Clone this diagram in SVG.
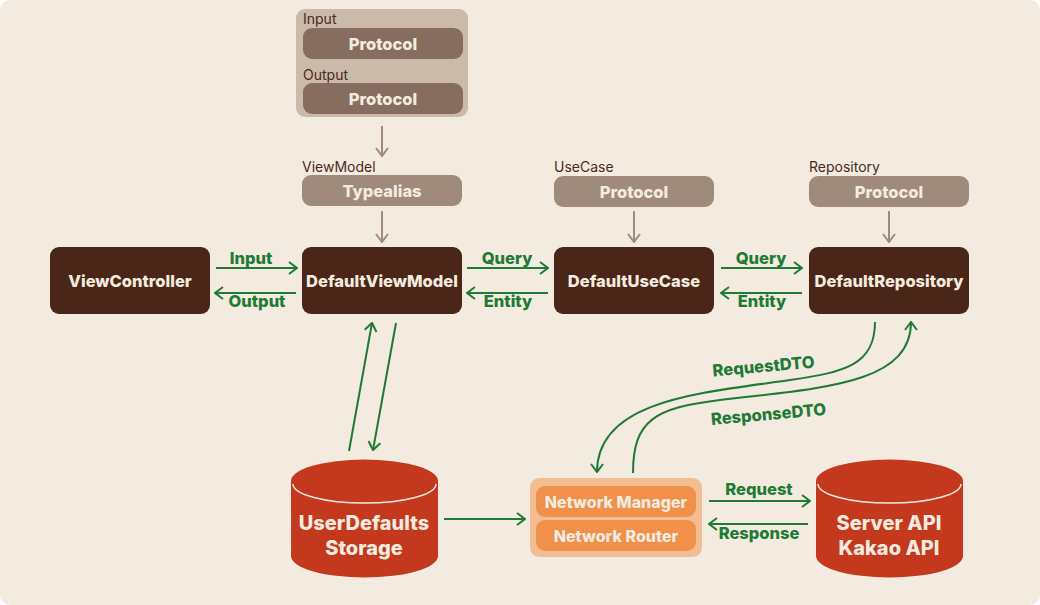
<svg xmlns="http://www.w3.org/2000/svg" width="1040" height="605" viewBox="0 0 1040 605">
<defs>
<style>
.bg{fill:#F3EBDF}
.main{fill:#4A2619}
.proto{fill:#A08A7C}
.protoD{fill:#876D5F}
.grp{fill:#CBB9A9}
.t{font-family:Inter,"Liberation Sans",sans-serif;font-weight:800;fill:#F3EBDF;text-anchor:middle}
.lbl{font-family:Inter,"Liberation Sans",sans-serif;font-size:14px;fill:#4A2A1E}
.g{font-family:Inter,"Liberation Sans",sans-serif;font-weight:800;font-size:16.5px;fill:#1F7A35;text-anchor:middle}
.gl{fill:none;stroke:#1F7A35;stroke-width:2}
.bl{fill:none;stroke:#A08A7C;stroke-width:2}
.cyl{fill:#C4381E}
</style>
<marker id="ag" viewBox="0 0 10 14" refX="9" refY="7" markerWidth="10" markerHeight="14" markerUnits="userSpaceOnUse" orient="auto">
<path d="M1,1 L9,7 L1,13" fill="none" stroke="#1F7A35" stroke-width="2"/>
</marker>
<marker id="ab" viewBox="0 0 10 14" refX="9" refY="7" markerWidth="10" markerHeight="14" markerUnits="userSpaceOnUse" orient="auto">
<path d="M1,1 L9,7 L1,13" fill="none" stroke="#A08A7C" stroke-width="2"/>
</marker>
</defs>
<rect width="1040" height="605" fill="#FFFFFF"/>
<rect class="bg" x="0" y="0" width="1040" height="605" rx="10"/>

<g id="io-protocols">
<rect class="grp" x="296" y="9" width="172" height="108" rx="9"/>
<text class="lbl" x="303" y="24">Input</text>
<rect class="protoD" x="303" y="28" width="160" height="31" rx="9"/>
<text class="t" x="383" y="50" font-size="16.5">Protocol</text>
<text class="lbl" x="303" y="80">Output</text>
<rect class="protoD" x="303" y="83" width="160" height="31" rx="9"/>
<text class="t" x="383" y="105" font-size="16.5">Protocol</text>
</g>

<g id="viewmodel-typealias">
<text class="lbl" x="302" y="172">ViewModel</text>
<rect class="proto" x="302" y="175" width="160" height="31" rx="9"/>
<text class="t" x="382" y="197" font-size="16.5">Typealias</text>
</g>

<g id="usecase-protocol">
<text class="lbl" x="554" y="172">UseCase</text>
<rect class="proto" x="554" y="176" width="160" height="31" rx="9"/>
<text class="t" x="634" y="198" font-size="16.5">Protocol</text>
</g>

<g id="repository-protocol">
<text class="lbl" x="809" y="172">Repository</text>
<rect class="proto" x="809" y="176" width="160" height="31" rx="9"/>
<text class="t" x="889" y="198" font-size="16.5">Protocol</text>
</g>

<g id="viewcontroller">
<rect class="main" x="50" y="247" width="160" height="67" rx="9"/>
<text class="t" x="130" y="287" font-size="16.5">ViewController</text>
</g>
<g id="defaultviewmodel">
<rect class="main" x="302" y="247" width="160" height="67" rx="9"/>
<text class="t" x="382" y="287" font-size="16.5">DefaultViewModel</text>
</g>
<g id="defaultusecase">
<rect class="main" x="554" y="247" width="160" height="67" rx="9"/>
<text class="t" x="634" y="287" font-size="16.5">DefaultUseCase</text>
</g>
<g id="defaultrepository">
<rect class="main" x="809" y="247" width="160" height="67" rx="9"/>
<text class="t" x="889" y="287" font-size="16.5">DefaultRepository</text>
</g>

<g id="userdefaults">
<path class="cyl" d="M291,481 A73.5,21.5 0 0 1 438,481 L438,556 A73.5,21.5 0 0 1 291,556 Z"/>
<path d="M293,484 A71.5,19 0 0 0 436,484" fill="none" stroke="#F3EBDF" stroke-width="1.5"/>
<text class="t" x="364" y="530" font-size="20">UserDefaults</text>
<text class="t" x="364" y="555" font-size="20">Storage</text>
</g>

<g id="network">
<rect fill="#F2BD93" x="530" y="478" width="172" height="79" rx="9"/>
<rect fill="#F0904A" x="536" y="486" width="160" height="31" rx="9"/>
<text class="t" x="616" y="507.5" font-size="16">Network Manager</text>
<rect fill="#F0904A" x="536" y="520" width="160" height="31" rx="9"/>
<text class="t" x="616" y="541.5" font-size="16">Network Router</text>
</g>

<g id="server">
<path class="cyl" d="M816,481 A73.5,21.5 0 0 1 963,481 L963,556 A73.5,21.5 0 0 1 816,556 Z"/>
<path d="M818,484 A71.5,19 0 0 0 961,484" fill="none" stroke="#F3EBDF" stroke-width="1.5"/>
<text class="t" x="889" y="530" font-size="20">Server API</text>
<text class="t" x="889" y="555" font-size="20">Kakao API</text>
</g>

<g id="connectors">
<line class="bl" x1="382" y1="126" x2="382" y2="156" marker-end="url(#ab)"/>
<line class="bl" x1="382" y1="211" x2="382" y2="242" marker-end="url(#ab)"/>
<line class="bl" x1="634" y1="211" x2="634" y2="242" marker-end="url(#ab)"/>
<line class="bl" x1="889" y1="211" x2="889" y2="242" marker-end="url(#ab)"/>

<line class="gl" x1="216" y1="268" x2="297" y2="268" marker-end="url(#ag)"/>
<text class="g" x="251" y="264">Input</text>
<line class="gl" x1="296" y1="293" x2="215" y2="293" marker-end="url(#ag)"/>
<text class="g" x="257" y="307">Output</text>

<line class="gl" x1="467" y1="268" x2="548" y2="268" marker-end="url(#ag)"/>
<text class="g" x="507" y="264">Query</text>
<line class="gl" x1="548" y1="293" x2="467" y2="293" marker-end="url(#ag)"/>
<text class="g" x="508" y="307">Entity</text>

<line class="gl" x1="721" y1="268" x2="802" y2="268" marker-end="url(#ag)"/>
<text class="g" x="761" y="264">Query</text>
<line class="gl" x1="802" y1="293" x2="721" y2="293" marker-end="url(#ag)"/>
<text class="g" x="762" y="307">Entity</text>

<line class="gl" x1="349" y1="451" x2="372" y2="323" marker-end="url(#ag)"/>
<line class="gl" x1="396" y1="323" x2="373" y2="450" marker-end="url(#ag)"/>

<line class="gl" x1="444" y1="519" x2="525" y2="519" marker-end="url(#ag)"/>

<path class="gl" d="M875,322 C875,365 845,372 790,380 C700,393 597,400 597,472" marker-end="url(#ag)"/>
<text class="g" x="764" y="372" transform="rotate(-5 764 372)">RequestDTO</text>
<path class="gl" d="M633,473 C633,420 655,408 720,400 C820,388 911,385 911,322" marker-end="url(#ag)"/>
<text class="g" x="769" y="420" transform="rotate(-5 769 420)">ResponseDTO</text>

<line class="gl" x1="709" y1="501" x2="810" y2="501" marker-end="url(#ag)"/>
<text class="g" x="759" y="495">Request</text>
<line class="gl" x1="808" y1="524" x2="709" y2="524" marker-end="url(#ag)"/>
<text class="g" x="759" y="539">Response</text>
</g>
</svg>
